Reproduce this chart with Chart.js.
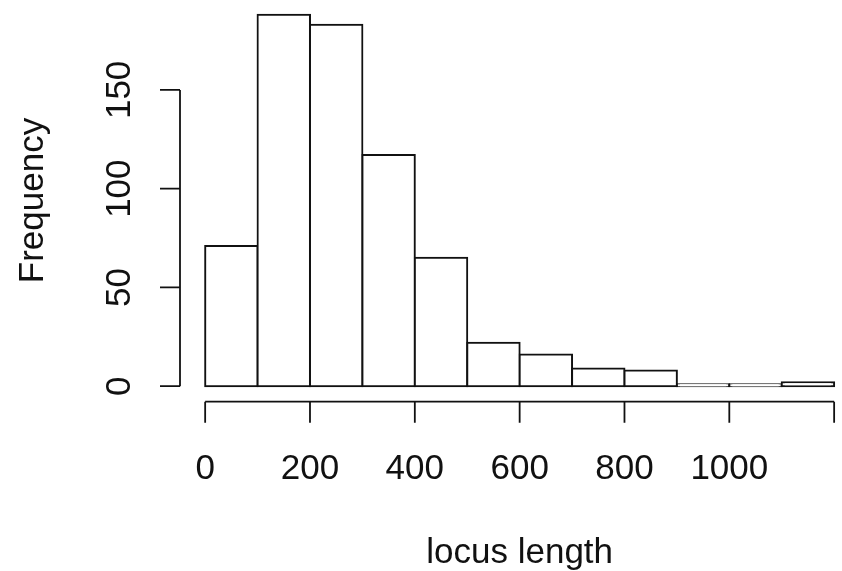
<!DOCTYPE html>
<html lang="en">
<head>
    <meta charset="UTF-8">
    <title>locus length histogram</title>
    <script src="https://cdn.jsdelivr.net/npm/chart.js"></script>
    <style>
        body { margin: 0; background: #fff; }
        #wrap { width: 842px; height: 571px; }
    </style>
</head>
<body>
    <div id="wrap"><canvas id="myChart"></canvas></div>
    <script>
        // histogram bins (left edges) and counts
        const binStarts = [0, 100, 200, 300, 400, 500, 600, 700, 800, 900, 1000, 1100];
        const binWidth = 100;
        const counts = [71, 188, 183, 117, 65, 22, 16, 9, 8, 1, 1, 2];

        // axis ticks
        const xTicks = [0, 200, 400, 600, 800, 1000, 1200];
        const xTickLabels = ['0', '200', '400', '600', '800', '1000', ''];
        const yTicks = [0, 50, 100, 150];
        const yTickLabels = ['0', '50', '100', '150'];

        const xTitle = 'locus length';
        const yTitle = 'Frequency';

        const FONT = '35px "Liberation Sans", Arial, sans-serif';
        const INK = '#111';

        // R-like axes, drawn off the plot region with the chart's own scales
        const rAxes = {
            id: 'rAxes',
            afterDraw(chart) {
                const ctx = chart.ctx;
                const xs = chart.scales.x;
                const ys = chart.scales.y;
                const axisY = chart.chartArea.bottom + 0.7;
                const axisX = chart.chartArea.left;

                ctx.save();
                ctx.strokeStyle = INK;
                ctx.fillStyle = INK;
                ctx.lineWidth = 1.8;
                ctx.font = FONT;

                // x axis
                ctx.beginPath();
                ctx.moveTo(xs.getPixelForValue(xTicks[0]), axisY);
                ctx.lineTo(xs.getPixelForValue(xTicks[xTicks.length - 1]), axisY);
                xTicks.forEach(v => {
                    const px = xs.getPixelForValue(v);
                    ctx.moveTo(px, axisY);
                    ctx.lineTo(px, axisY + 21);
                });
                ctx.stroke();
                ctx.textAlign = 'center';
                ctx.textBaseline = 'alphabetic';
                xTicks.forEach((v, i) => {
                    ctx.fillText(xTickLabels[i], xs.getPixelForValue(v), 479);
                });

                // y axis
                ctx.beginPath();
                ctx.moveTo(axisX, ys.getPixelForValue(yTicks[0]));
                ctx.lineTo(axisX, ys.getPixelForValue(yTicks[yTicks.length - 1]));
                yTicks.forEach(v => {
                    const py = ys.getPixelForValue(v);
                    ctx.moveTo(axisX, py);
                    ctx.lineTo(axisX - 20, py);
                });
                ctx.stroke();
                yTicks.forEach((v, i) => {
                    ctx.save();
                    ctx.translate(130, ys.getPixelForValue(v));
                    ctx.rotate(-Math.PI / 2);
                    ctx.fillText(yTickLabels[i], 0, 0);
                    ctx.restore();
                });

                // titles, centred on the full plot region
                const midX = xs.getPixelForValue(600);
                ctx.fillText(xTitle, midX, 563);
                ctx.save();
                ctx.translate(43, (chart.chartArea.top + chart.chartArea.bottom) / 2);
                ctx.rotate(-Math.PI / 2);
                ctx.fillText(yTitle, 0, 0);
                ctx.restore();

                ctx.restore();
            }
        };

        const ctx = document.getElementById('myChart').getContext('2d');
        new Chart(ctx, {
            type: 'bar',
            data: {
                datasets: [{
                    label: 'Frequency',
                    data: binStarts.map((b, i) => ({ x: b + binWidth / 2, y: counts[i] })),
                    backgroundColor: '#ffffff',
                    borderColor: INK,
                    borderWidth: 2,
                    borderSkipped: false,
                    inflateAmount: 1,
                    barPercentage: 1,
                    categoryPercentage: 1
                }]
            },
            options: {
                responsive: true,
                maintainAspectRatio: false,
                animation: false,
                layout: { padding: { left: 180, right: 0, top: 0, bottom: 170 } },
                plugins: {
                    legend: { display: false },
                    tooltip: { enabled: false }
                },
                scales: {
                    x: { type: 'linear', offset: false, min: -48, max: 1215, display: false },
                    y: { min: -7.5, max: 195.5, display: false }
                }
            },
            plugins: [rAxes]
        });
    </script>
</body>
</html>
